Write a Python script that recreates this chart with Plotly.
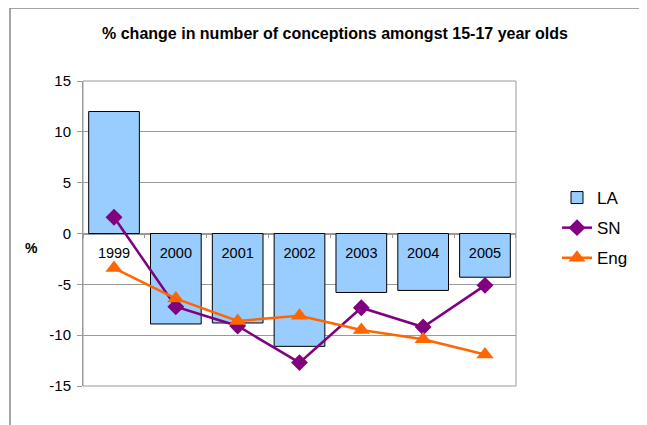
import plotly.graph_objects as go

years = ["1999", "2000", "2001", "2002", "2003", "2004", "2005"]
la = [12.0, -8.9, -8.8, -11.1, -5.8, -5.6, -4.3]
sn = [1.6, -7.2, -9.1, -12.7, -7.3, -9.2, -5.1]
eng = [-3.4, -6.4, -8.6, -8.1, -9.5, -10.4, -11.9]
y_tickvals = [-15, -10, -5, 0, 5, 10, 15]
y_ticktext = ["-15", "-10", "-5", "0", "5", "10", "15"]

OFF = 8  # page body margin
W, H = 647 - OFF, 425 - OFF
L, R, T, B = 83 - OFF, 516 - OFF, 81 - OFF, 386 - OFF

fig = go.Figure()
fig.add_trace(go.Bar(x=years, y=la, name="LA", legendgroup="a",
                     marker=dict(color="#99CCFF", line=dict(color="#000000", width=1))))
fig.add_trace(go.Scatter(x=years, y=sn, name="SN", mode="lines+markers", legendgroup="b",
                         line=dict(color="#800080", width=2.5),
                         marker=dict(symbol="diamond", size=13, color="#800080")))
fig.add_trace(go.Scatter(x=years, y=eng, name="Eng", mode="lines+markers", legendgroup="c",
                         line=dict(color="#FF6600", width=2.5),
                         marker=dict(symbol="triangle-up", size=15, color="#FF6600")))

def px_x(p):
    return (p - OFF - L) / (R - L)

def px_y(p):
    return (B - (p - OFF)) / (B - T)

fig.update_layout(
    width=W, height=H,
    margin=dict(l=L, r=W - R, t=T, b=H - B, autoexpand=False),
    paper_bgcolor="white", plot_bgcolor="white",
    font=dict(family="Liberation Sans, Arial", size=14, color="#000000"),
    title=dict(text="<b>% change in number of conceptions amongst 15-17 year olds</b>",
               xref="container", yref="container",
               x=(335 - OFF) / W, xanchor="center", y=1 - (33 - OFF) / H, yanchor="middle",
               font=dict(size=16)),
    bargap=0.18,
    showlegend=True,
    legend=dict(x=px_x(557), y=px_y(180), xanchor="left", yanchor="top",
                font=dict(size=17), tracegroupgap=5, traceorder="grouped",
                bgcolor="rgba(0,0,0,0)"),
    xaxis=dict(anchor="free", position=0.5, showgrid=False, showline=False,
               automargin=False,
               ticks="outside", tickson="boundaries", ticklen=3, tickcolor="#999999",
               ticklabelstandoff=9,
               tickfont=dict(size=14.5), fixedrange=True),
    yaxis=dict(range=[-15, 15], tickvals=y_tickvals, ticktext=y_ticktext,
               showgrid=True, gridcolor="#999999", gridwidth=1,
               automargin=False,
               showline=True, linecolor="#999999", linewidth=1, ticks="outside",
               ticklen=5, tickcolor="#999999", zeroline=True, zerolinecolor="#999999",
               zerolinewidth=1.5, ticklabelstandoff=3, tickfont=dict(size=15)),
    annotations=[
        dict(text="<b>%</b>", xref="paper", yref="paper", x=px_x(31), y=px_y(248),
             xanchor="center", yanchor="middle", showarrow=False, font=dict(size=14)),
    ],
    shapes=[
        dict(type="rect", xref="paper", yref="paper", x0=0, x1=1, y0=0, y1=1,
             line=dict(color="#999999", width=1), layer="below"),
        dict(type="rect", xref="paper", yref="paper", x0=px_x(10), x1=px_x(700),
             y0=px_y(480), y1=px_y(8), line=dict(color="#888888", width=1.5), layer="below"),
    ],
)

fig.write_html("out.html")
